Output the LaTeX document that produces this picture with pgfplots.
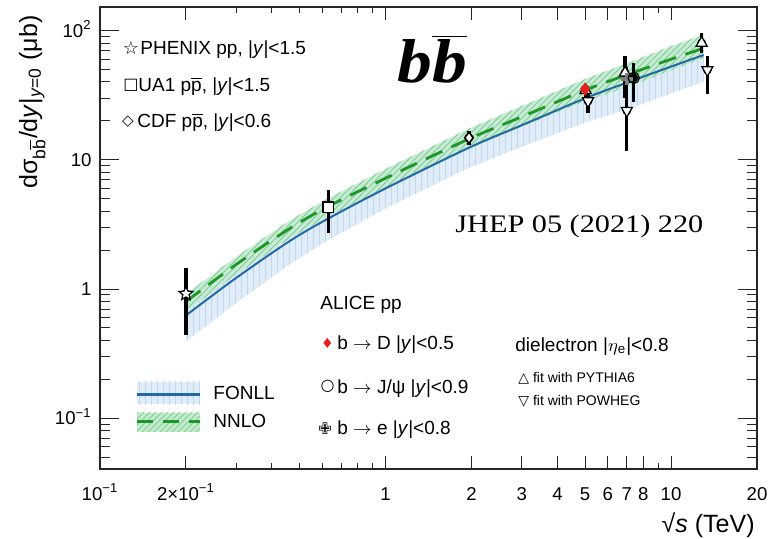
\documentclass[border=0pt]{standalone}
\usepackage{fontspec}
\setmainfont{Liberation Sans}
\newfontfamily\timesf{Liberation Serif}
\newfontfamily\dejavu{DejaVu Sans}
\usepackage{pgfplots}
\pgfplotsset{compat=1.18}
\usetikzlibrary{patterns,plotmarks}
\definecolor{fonllblue}{RGB}{35,105,165}
\definecolor{fonllband}{RGB}{224,237,248}
\definecolor{fonllhatch}{RGB}{192,216,238}
\definecolor{nnlogreen}{RGB}{30,150,40}
\definecolor{nnloband}{RGB}{195,236,205}
\definecolor{nnlohatch}{RGB}{130,205,150}
\definecolor{alicered}{RGB}{235,30,30}
\newcommand\lf{\fontsize{9.5}{11}\selectfont}
\pgfplotsset{eb/.style={only marks, mark=none, error bars/y dir=both, error bars/y explicit, error bars/error mark=none, error bars/error bar style={line width=1.6pt, black}}}
\pgfdeclareplotmark{ostar}{%
  \pgfpathmoveto{\pgfpointpolar{90}{\pgfplotmarksize}}%
  \pgfpathlineto{\pgfpointpolar{126}{0.45\pgfplotmarksize}}%
  \pgfpathlineto{\pgfpointpolar{162}{\pgfplotmarksize}}%
  \pgfpathlineto{\pgfpointpolar{198}{0.45\pgfplotmarksize}}%
  \pgfpathlineto{\pgfpointpolar{234}{\pgfplotmarksize}}%
  \pgfpathlineto{\pgfpointpolar{270}{0.45\pgfplotmarksize}}%
  \pgfpathlineto{\pgfpointpolar{306}{\pgfplotmarksize}}%
  \pgfpathlineto{\pgfpointpolar{342}{0.45\pgfplotmarksize}}%
  \pgfpathlineto{\pgfpointpolar{18}{\pgfplotmarksize}}%
  \pgfpathlineto{\pgfpointpolar{54}{0.45\pgfplotmarksize}}%
  \pgfpathclose\pgfusepathqfillstroke}
\begin{document}
\begin{tikzpicture}
\begin{axis}[
  at={(0,0)}, anchor=south west,
  width=328.5pt, height=231pt, scale only axis,
  xmode=log, ymode=log,
  xmin=0.1, xmax=20, ymin=0.0405, ymax=152,
  xtick={0.1,1,10}, xticklabels={10\textsuperscript{−1},1,10},
  extra x ticks={0.2,2,3,4,5,6,7,8,20},
  extra x tick labels={2×10\textsuperscript{−1},2,3,4,5,6,7,8,20},
  extra x tick style={/pgfplots/major tick length=4pt},
  minor xtick={0.3,0.4,0.5,0.6,0.7,0.8,0.9,9},
  ytick={0.1,1,10,100}, yticklabels={10\textsuperscript{−1},1,10,10\textsuperscript{2}},
  minor ytick={0.05,0.06,0.07,0.08,0.09,0.2,0.3,0.4,0.5,0.6,0.7,0.8,0.9,2,3,4,5,6,7,8,9,20,30,40,50,60,70,80,90},
  xtick style={/pgfplots/major tick length=6.5pt, /pgfplots/minor tick length=3pt},
  ytick style={/pgfplots/major tick length=9.5pt, /pgfplots/minor tick length=5pt},
  tick align=inside,
  axis line style={line width=0.6pt, black!85},
  tick style={black!85, line width=0.5pt},
  tick label style={font=\fontsize{9.3}{11}\selectfont},
  xticklabel style={anchor=base, yshift=-15.5pt},
  yticklabel style={anchor=base east, yshift=-3.3pt, xshift=-0.7pt},
]
% FONLL band
\addplot[draw=none, fill=fonllband, postaction={pattern=vertical lines, pattern color=fonllhatch}] coordinates {
 (0.2,0.394) (0.3,0.78) (0.463,1.56) (0.63,2.39) (1.0,4.2) (1.96,8.68) (3,12.6) (5.02,19.5) (7,24.5) (10,32.6) (13,40.1)
 (13,90.4) (10,73.6) (7,55.3) (5.02,42) (3,25.9) (1.96,17.4) (1.0,8.4) (0.63,4.91) (0.463,3.30) (0.3,1.71) (0.2,0.875)
} -- cycle;
% NNLO band
\addplot[draw=none, fill=nnloband, fill opacity=0.8, postaction={pattern=north east lines, pattern color=nnlohatch}] coordinates {
 (0.2,0.672) (0.3,1.30) (0.463,2.48) (0.63,3.65) (1.0,6.05) (1.96,12.2) (3,18.0) (5.02,28.5) (7,36.3) (10,49.2) (13,61.3)
 (13,93.4) (10,75.6) (7,55.8) (5.02,42.3) (3,26.0) (1.96,17.4) (1.0,8.50) (0.63,5.05) (0.463,3.41) (0.3,1.78) (0.2,0.912)
} -- cycle;
% FONLL central
\addplot[fonllblue, line width=1pt, smooth] coordinates {
 (0.2,0.625) (0.3,1.22) (0.463,2.36) (0.63,3.51) (1.0,6.0) (1.96,12.4) (3,18.5) (5.02,30.0) (7,39.5) (10,52.6) (13,64.6)
};
% NNLO central
\addplot[nnlogreen, line width=1.4pt, dash pattern=on 9pt off 5pt, smooth] coordinates {
 (0.2,0.80) (0.3,1.55) (0.463,2.95) (0.63,4.35) (1.0,7.2) (1.96,14.5) (3,21.5) (5.02,34.7) (7,45.4) (10,60) (13,73)
};
% ---- error bars (drawn first) ----
\addplot[eb] coordinates {(0.2,0.92) += (0,0.53) -= (0,0.48)};
\addplot[eb] coordinates {(0.63,4.3) += (0,1.5) -= (0,1.6)};
\addplot[eb] coordinates {(1.96,14.8) += (0,1.9) -= (0,1.8)};
\addplot[eb] coordinates {(5.02,34.5) += (0,4) -= (0,4) (6.9,47) += (0,16) -= (0,17) (12.8,80) += (0,16.5) -= (0,13)};
\addplot[eb] coordinates {(5.12,28.5) += (0,4.5) -= (0,5.5) (7.0,24) += (0,10) -= (0,12.4) (13.4,49.6) += (0,13.4) -= (0,17.2)};
\addplot[eb] coordinates {(7.0,42) += (0,10) -= (0,12)};
\addplot[eb] coordinates {(7.4,43) += (0,13) -= (0,15)};
\addplot[eb, error bars/error bar style={alicered, line width=1.2pt}] coordinates {(5.0,35.2) += (0,2.5) -= (0,2.5)};
% ---- markers ----
% PHENIX
\addplot[only marks, mark=ostar, mark size=3.6pt, mark options={fill=white, draw=black, line width=0.6pt}] coordinates {(0.2,0.92)};
% UA1
\addplot[only marks, mark=square*, mark size=2.6pt, mark options={fill=white, draw=black, line width=0.6pt}] coordinates {(0.63,4.3)};
% CDF
\addplot[only marks, mark=diamond*, mark size=2.8pt, mark options={fill=white, draw=black, line width=0.8pt}] coordinates {(1.96,14.8)};
% dielectron PYTHIA
\addplot[only marks, mark=triangle*, mark size=3.2pt, mark options={fill=white, draw=black, line width=0.6pt}] coordinates {(5.02,34.5) (6.9,47) (12.8,80)};
% dielectron POWHEG
\addplot[only marks, mark=triangle*, mark size=3.2pt, mark options={fill=white, draw=black, line width=0.6pt, rotate=180}] coordinates {(5.12,28.5) (7.0,24) (13.4,49.6)};
% b -> e
\addplot[only marks, mark=+, mark size=3pt, mark options={draw=gray, line width=1.8pt}] coordinates {(7.0,42)};
% b -> J/psi
\addplot[only marks, mark=o, mark size=2.8pt, mark options={draw=black, line width=0.6pt}] coordinates {(7.4,43)};
% b -> D
\addplot[only marks, mark=diamond*, mark size=3pt, mark options={fill=alicered, draw=alicered}] coordinates {(5.0,35.2)};
\end{axis}
% axis titles
\node[rotate=90, anchor=base east, inner sep=0pt, font=\fontsize{12.5}{14}\selectfont] at (-31.5pt,227pt)
  {dσ\textsubscript{b$\overline{\mbox{b}}$}/d\textit{y}|\textsubscript{\textit{y}=0} (μb)};
\node[anchor=base east, inner sep=0pt, font=\fontsize{12.5}{14}\selectfont] at (327.5pt,-31.5pt) {√\textit{s} (TeV)};
% big label
\node[anchor=base west, inner sep=0pt, xscale=1.12, font=\timesf\fontsize{31}{33}\selectfont\bfseries\itshape] at (148.5pt,193.5pt) {b$\overline{\hbox{b}}$};
\node[anchor=base west, inner sep=0pt, xscale=1.2, font=\timesf\fontsize{12.6}{14}\selectfont] at (177.5pt,118.5pt) {JHEP 05 (2021) 220};
% upper-left legend
\node[inner sep=0pt, font=\dejavu\fontsize{9}{10}\selectfont] at (15.5pt,210.5pt) {☆};
\node[anchor=base west, inner sep=0pt, font=\lf] at (20pt,207.5pt) {PHENIX pp, |\textit{y}|<1.5};
\node[inner sep=0pt, font=\dejavu\fontsize{8}{10}\selectfont] at (15.5pt,191.65pt) {□};
\node[anchor=base west, inner sep=0pt, font=\lf] at (19pt,188.65pt) {UA1 p$\overline{\mbox{p}}$, |\textit{y}|<1.5};
\node[inner sep=0pt, font=\dejavu\fontsize{7.5}{10}\selectfont] at (14pt,173.65pt) {◇};
\node[anchor=base west, inner sep=0pt, font=\lf] at (18.5pt,170.65pt) {CDF p$\overline{\mbox{p}}$, |\textit{y}|<0.6};
% FONLL / NNLO legend
\fill[fonllband] (18.5pt,32.5pt) rectangle (50pt,43.65pt);
\fill[pattern=vertical lines, pattern color=fonllhatch] (18.5pt,32.5pt) rectangle (50pt,43.65pt);
\draw[fonllblue, line width=1.5pt] (18.5pt,37.35pt) -- (50pt,37.35pt);
\fill[nnloband] (18.5pt,18.65pt) rectangle (50pt,28.15pt);
\fill[pattern=north east lines, pattern color=nnlohatch] (18.5pt,18.65pt) rectangle (50pt,28.15pt);
\draw[nnlogreen, line width=1.5pt, dash pattern=on 8pt off 5pt] (18.5pt,23.65pt) -- (50pt,23.65pt);
\node[anchor=base west, inner sep=0pt, font=\lf] at (56.5pt,34.75pt) {FONLL};
\node[anchor=base west, inner sep=0pt, font=\lf] at (56.5pt,20.75pt) {NNLO};
% ALICE legend
\node[anchor=base west, inner sep=0pt, font=\lf] at (110pt,79.75pt) {ALICE pp};
\node[inner sep=0pt, text=alicered, font=\dejavu\fontsize{7}{10}\selectfont] at (113.75pt,62.85pt) {♦};
\node[anchor=base west, inner sep=0pt, font=\lf] at (118.5pt,59.6pt) {b $\rightarrow$ D |\textit{y}|<0.5};
\node[inner sep=0pt, font=\dejavu\fontsize{8}{10}\selectfont] at (113.75pt,41.15pt) {○};
\node[anchor=base west, inner sep=0pt, font=\lf] at (118.5pt,37.9pt) {b $\rightarrow$ J/ψ |\textit{y}|<0.9};
\node[inner sep=0pt, font=\dejavu\fontsize{8}{10}\selectfont] at (112.5pt,20.35pt) {✙};
\node[anchor=base west, inner sep=0pt, font=\lf] at (118.5pt,17.1pt) {b $\rightarrow$ e |\textit{y}|<0.8};
% dielectron legend
\node[anchor=base west, inner sep=0pt, font=\lf] at (207.5pt,58.75pt) {dielectron |$\eta$\textsubscript{e}|<0.8};
\node[anchor=base west, inner sep=0pt, font=\fontsize{7}{8}\selectfont] at (209pt,43.25pt) {{\dejavu △} fit with PYTHIA6};
\node[anchor=base west, inner sep=0pt, font=\fontsize{7}{8}\selectfont] at (209pt,31.75pt) {{\dejavu ▽} fit with POWHEG};
\pgfresetboundingbox
\path (-50pt,-34.5pt) rectangle (338pt,234.5pt);
\end{tikzpicture}
\end{document}
